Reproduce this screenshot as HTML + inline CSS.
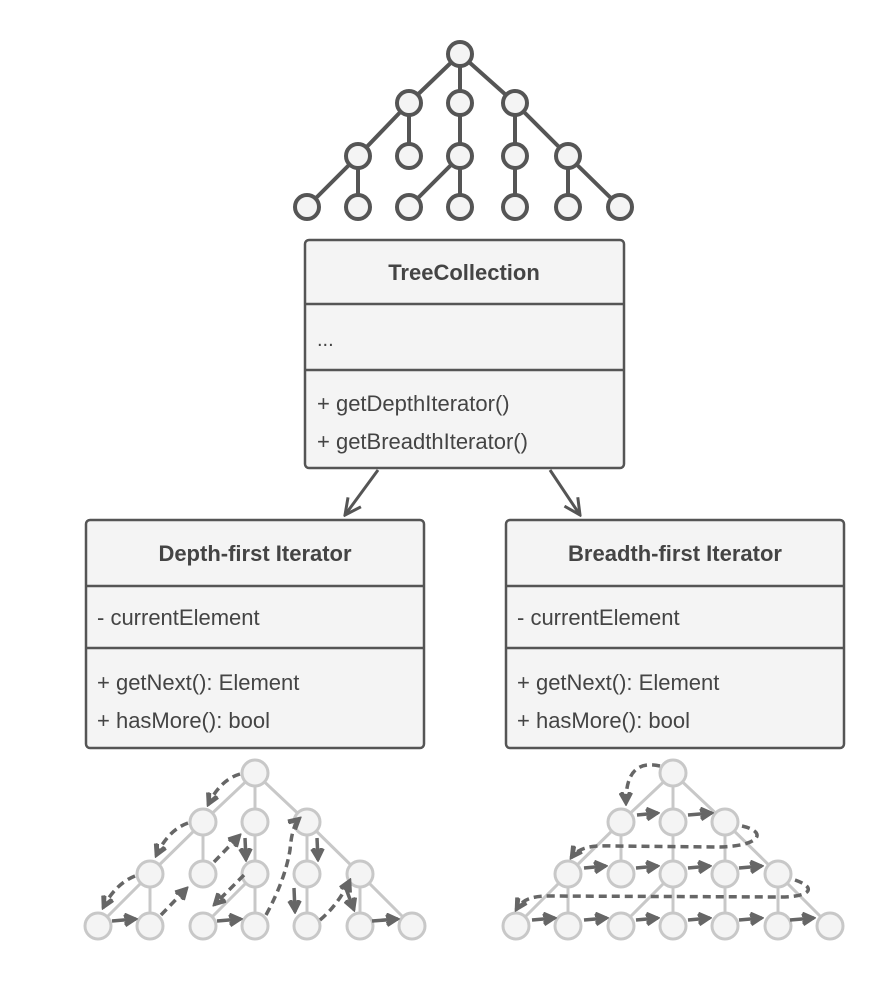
<!DOCTYPE html>
<html><head><meta charset="utf-8"><style>
html,body{margin:0;padding:0;background:#fff;}
svg{display:block;}
text{font-family:"Liberation Sans",sans-serif;fill:#444;}
</style></head><body>
<svg width="890" height="984" viewBox="0 0 890 984" xmlns="http://www.w3.org/2000/svg">
<defs>
<marker id="ah" viewBox="0 0 14 14" refX="12" refY="7" markerWidth="14" markerHeight="14" orient="auto" markerUnits="userSpaceOnUse">
<path d="M1,1 L12,7 L1,13 M-3,2 L8,7 L-3,12" fill="none" stroke="#666" stroke-width="2.6"/>
</marker>
<marker id="big" viewBox="0 0 20 20" refX="18" refY="10" markerWidth="20" markerHeight="20" orient="auto" markerUnits="userSpaceOnUse">
<path d="M2,2 L18,10 L2,18" fill="none" stroke="#555" stroke-width="3"/>
</marker>
</defs>

<!-- Top tree -->
<g stroke="#555" stroke-width="4" fill="#f4f4f4">
<path d="M460,54 L409,103 M460,54 L460,103 M460,54 L515,103 M409,103 L358,156 M409,103 L409,156 M460,103 L460,156 M515,103 L515,156 M515,103 L568,156 M358,156 L307,207 M358,156 L358,207 M460,156 L409,207 M460,156 L460,207 M515,156 L515,207 M568,156 L568,207 M568,156 L620,207" fill="none"/>
<circle cx="460" cy="54" r="12"/>
<circle cx="409" cy="103" r="12"/><circle cx="460" cy="103" r="12"/><circle cx="515" cy="103" r="12"/>
<circle cx="358" cy="156" r="12"/><circle cx="409" cy="156" r="12"/><circle cx="460" cy="156" r="12"/><circle cx="515" cy="156" r="12"/><circle cx="568" cy="156" r="12"/>
<circle cx="307" cy="207" r="12"/><circle cx="358" cy="207" r="12"/><circle cx="409" cy="207" r="12"/><circle cx="460" cy="207" r="12"/><circle cx="515" cy="207" r="12"/><circle cx="568" cy="207" r="12"/><circle cx="620" cy="207" r="12"/>
</g>

<g stroke="#555" stroke-width="2.5" fill="#f4f4f4">
<rect x="305" y="240" width="319" height="228" rx="4"/>
<line x1="305" y1="304" x2="624" y2="304"/>
<line x1="305" y1="370" x2="624" y2="370"/>
<rect x="86" y="520" width="338" height="228" rx="4"/>
<line x1="86" y1="586" x2="424" y2="586"/>
<line x1="86" y1="648" x2="424" y2="648"/>
<rect x="506" y="520" width="338" height="228" rx="4"/>
<line x1="506" y1="586" x2="844" y2="586"/>
<line x1="506" y1="648" x2="844" y2="648"/>
</g>
<text x="464" y="280" text-anchor="middle" font-size="22" font-weight="bold">TreeCollection</text>
<text x="317" y="346" font-size="20">...</text>
<text x="317" y="411" font-size="22">+ getDepthIterator()</text>
<text x="317" y="449" font-size="22">+ getBreadthIterator()</text>
<text x="255" y="561" text-anchor="middle" font-size="22" font-weight="bold">Depth-first Iterator</text>
<text x="97" y="625" font-size="22">- currentElement</text>
<text x="97" y="690" font-size="22">+ getNext(): Element</text>
<text x="97" y="728" font-size="22">+ hasMore(): bool</text>
<text x="675" y="561" text-anchor="middle" font-size="22" font-weight="bold">Breadth-first Iterator</text>
<text x="517" y="625" font-size="22">- currentElement</text>
<text x="517" y="690" font-size="22">+ getNext(): Element</text>
<text x="517" y="728" font-size="22">+ hasMore(): bool</text>

<g stroke="#555" stroke-width="3" fill="none">
<line x1="378" y1="470" x2="345" y2="515" marker-end="url(#big)"/>
<line x1="550" y1="470" x2="580" y2="515" marker-end="url(#big)"/>
</g>

<g stroke="#c8c8c8" stroke-width="3" fill="#f4f4f4">
<path d="M255,773 L203,822 M255,773 L255,822 M255,773 L307,822 M203,822 L150,874 M203,822 L203,874 M255,822 L255,874 M307,822 L307,874 M307,822 L360,874 M150,874 L98,926 M150,874 L150,926 M255,874 L203,926 M255,874 L255,926 M307,874 L307,926 M360,874 L360,926 M360,874 L412,926" fill="none"/>
<circle cx="255" cy="773" r="13"/>
<circle cx="203" cy="822" r="13"/><circle cx="255" cy="822" r="13"/><circle cx="307" cy="822" r="13"/>
<circle cx="150" cy="874" r="13"/><circle cx="203" cy="874" r="13"/><circle cx="255" cy="874" r="13"/><circle cx="307" cy="874" r="13"/><circle cx="360" cy="874" r="13"/>
<circle cx="98" cy="926" r="13"/><circle cx="150" cy="926" r="13"/><circle cx="203" cy="926" r="13"/><circle cx="255" cy="926" r="13"/><circle cx="307" cy="926" r="13"/><circle cx="360" cy="926" r="13"/><circle cx="412" cy="926" r="13"/>
</g>
<g transform="translate(418,0)">
<g stroke="#c8c8c8" stroke-width="3" fill="#f4f4f4">
<path d="M255,773 L203,822 M255,773 L255,822 M255,773 L307,822 M203,822 L150,874 M203,822 L203,874 M255,822 L255,874 M307,822 L307,874 M307,822 L360,874 M150,874 L98,926 M150,874 L150,926 M255,874 L203,926 M255,874 L255,926 M307,874 L307,926 M360,874 L360,926 M360,874 L412,926" fill="none"/>
<circle cx="255" cy="773" r="13"/>
<circle cx="203" cy="822" r="13"/><circle cx="255" cy="822" r="13"/><circle cx="307" cy="822" r="13"/>
<circle cx="150" cy="874" r="13"/><circle cx="203" cy="874" r="13"/><circle cx="255" cy="874" r="13"/><circle cx="307" cy="874" r="13"/><circle cx="360" cy="874" r="13"/>
<circle cx="98" cy="926" r="13"/><circle cx="150" cy="926" r="13"/><circle cx="203" cy="926" r="13"/><circle cx="255" cy="926" r="13"/><circle cx="307" cy="926" r="13"/><circle cx="360" cy="926" r="13"/><circle cx="412" cy="926" r="13"/>
</g>
</g>

<g stroke="#666" stroke-width="3.5" fill="none" stroke-dasharray="8,5" marker-end="url(#ah)">
<path d="M240,774 Q220,780 208,805"/>
<path d="M188,823 Q168,830 156,856"/>
<path d="M135,876 Q115,884 103,908"/>
<path d="M161,915 L187,888"/>
<path d="M214,862 L240,835"/>
<path d="M244,875 L214,905"/>
<path d="M266,915 Q285,880 290,850 Q292,825 300,818"/>
<path d="M320,920 Q338,905 350,880"/>
</g>
<g stroke="#666" stroke-width="3.5" fill="none" marker-end="url(#ah)">
<path d="M112,921 L136,919"/>
<path d="M245,838 L246,860"/>
<path d="M217,921 L241,919"/>
<path d="M317,838 L318,860"/>
<path d="M294,888 L295,912"/>
<path d="M345,886 L354,910"/>
<path d="M372,921 L398,919"/>
</g>

<g stroke="#666" stroke-width="3.5" fill="none" stroke-dasharray="8,5" marker-end="url(#ah)">
<path d="M660,766 Q625,758 626,804"/>
<path d="M742,826 C768,832 760,846 720,847 L612,846 C590,845 578,848 571,858"/>
<path d="M795,880 C818,888 810,897 780,897 L550,896 C530,896 522,900 516,910"/>
</g>
<g stroke="#666" stroke-width="3.5" fill="none" marker-end="url(#ah)">
<path d="M637,815 L658,813"/><path d="M688,815 L712,813"/>
<path d="M584,868 L606,866"/><path d="M636,868 L658,866"/><path d="M688,868 L710,866"/><path d="M739,868 L762,866"/>
<path d="M532,920 L555,918"/><path d="M584,920 L607,918"/><path d="M636,920 L658,918"/><path d="M688,920 L710,918"/><path d="M739,920 L762,918"/><path d="M790,920 L814,918"/>
</g>
</svg>
</body></html>
